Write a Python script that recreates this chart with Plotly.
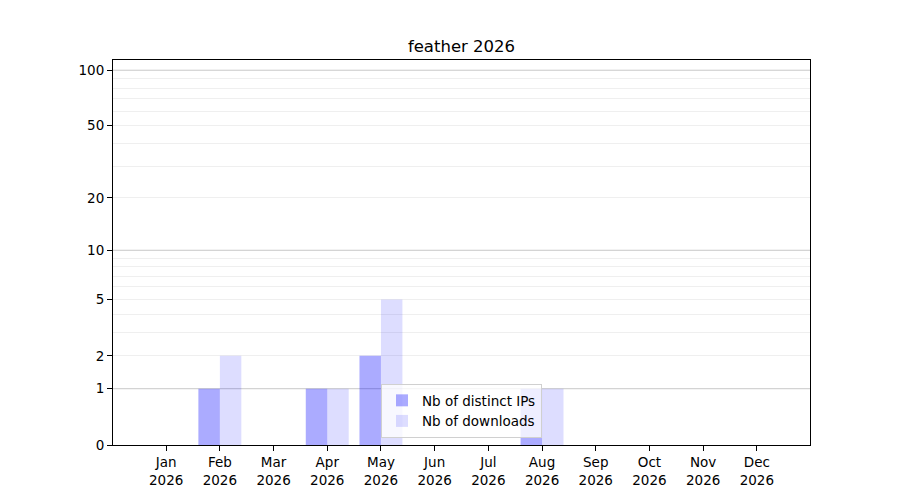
import numpy as np
import plotly.graph_objects as go

# --- data ---
months = ["Jan", "Feb", "Mar", "Apr", "May", "Jun",
          "Jul", "Aug", "Sep", "Oct", "Nov", "Dec"]
year = "2026"
distinct_ips = [0, 1, 0, 1, 2, 0, 0, 1, 0, 0, 0, 0]
downloads = [0, 2, 0, 1, 5, 0, 0, 1, 0, 0, 0, 0]
ytick_values = [0, 1, 2, 5, 10, 20, 50, 100]
minor_values = [2, 3, 4, 5, 6, 7, 8, 9, 20, 30, 40, 50, 60, 70, 80, 90]
major_grid = [1, 10, 100]


def tr(v):
    # same y scale as the original: log10(1 + x)
    return np.log10(1 + np.asarray(v, dtype=float))


x_labels = [f"{m}<br>{year}" for m in months]
font = "DejaVu Sans, Arial, sans-serif"

fig = go.Figure()
fig.add_trace(go.Bar(x=x_labels, y=tr(distinct_ips), name="Nb of distinct IPs",
                     marker=dict(color="rgba(0,0,255,0.33)", line=dict(width=0)),
                     customdata=distinct_ips, hovertemplate="%{customdata}"))
fig.add_trace(go.Bar(x=x_labels, y=tr(downloads), name="Nb of downloads",
                     marker=dict(color="rgba(0,0,255,0.135)", line=dict(width=0)),
                     customdata=downloads, hovertemplate="%{customdata}"))

# darker grid lines at the decades
for v in major_grid:
    fig.add_shape(type="line", xref="paper", x0=0, x1=1, yref="y",
                  y0=float(tr(v)), y1=float(tr(v)),
                  line=dict(color="#c8c8c8", width=1), layer="below")

# page body has an 8px offset, so margins are shifted by that
fig.update_layout(
    width=900, height=500,
    title=dict(text="feather 2026", x=(105 + 802) / 2 / 900, xanchor="center",
               y=1 - 38 / 500, yanchor="middle",
               font=dict(family=font, size=16.5, color="black")),
    font=dict(family=font, size=13.5, color="black"),
    plot_bgcolor="white", paper_bgcolor="white",
    margin=dict(l=105, r=98, t=52, b=63),
    barmode="group", bargap=0.2, bargroupgap=0,
    legend=dict(x=0.5, y=0.018, xanchor="center", yanchor="bottom",
                bgcolor="rgba(255,255,255,0.8)", bordercolor="#d0d0d0",
                borderwidth=1, font=dict(size=13.5), itemwidth=30,
                tracegroupgap=0),
)

fig.update_xaxes(range=[-0.99, 11.99], showline=True, linecolor="black",
                 linewidth=1, mirror=True, ticks="outside", ticklen=5,
                 tickcolor="black", showgrid=False)
fig.update_yaxes(range=[0, 2.059], showline=True, linecolor="black",
                 linewidth=1, mirror=True, ticks="outside", ticklen=5,
                 tickcolor="black", showgrid=False, zeroline=False,
                 tickvals=list(tr(ytick_values)),
                 ticktext=[str(v) for v in ytick_values],
                 minor=dict(tickvals=list(tr(minor_values)), showgrid=True,
                            gridcolor="#efefef", gridwidth=1, ticks=""))

fig.write_html("out.html")
